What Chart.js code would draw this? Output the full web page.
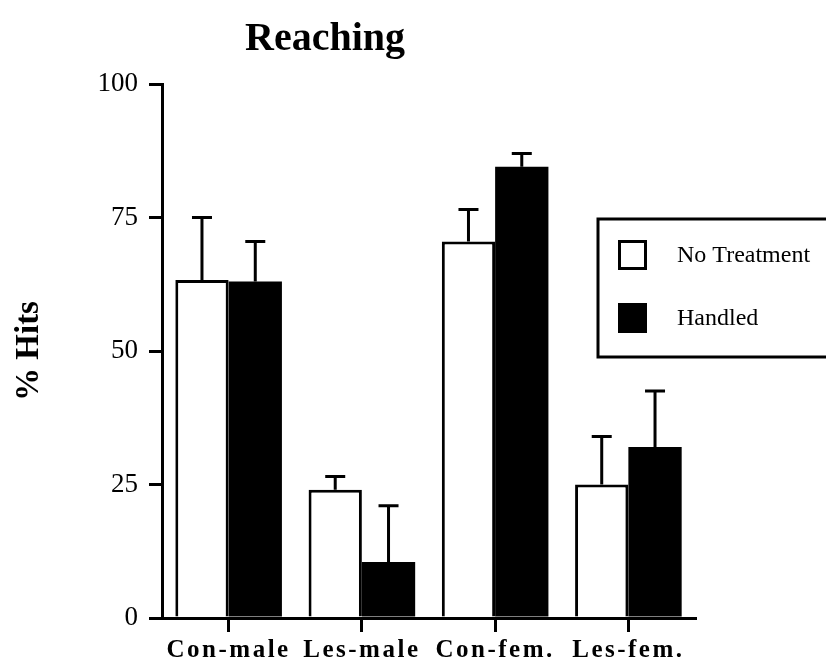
<!DOCTYPE html>
<html>
<head>
<meta charset="utf-8">
<script src="https://cdn.jsdelivr.net/npm/chart.js@4"></script>
<style>
  html, body { margin: 0; padding: 0; background: #fff; }
  #wrap { width: 826px; height: 664px; }
</style>
</head>
<body>
<div id="wrap"><canvas id="barChart" width="826" height="664"></canvas></div>
<script>
const categories = ['Con-male', 'Les-male', 'Con-fem.', 'Les-fem.'];
const noTreatment = [63.3, 24, 70.5, 25];
const handled = [63, 10.5, 84.5, 32];
// upper error bars (SEM)
const noTreatmentErr = [11.7, 2.5, 6, 9];
const handledErr = [7.5, 10.5, 2.5, 10.5];
const yTicks = [0, 25, 50, 75, 100];

const SERIF = '"Liberation Serif", "DejaVu Serif", serif';

const errorBars = {
  id: 'errorBars',
  afterDatasetsDraw(chart) {
    const ctx = chart.ctx;
    const y = chart.scales.y;
    ctx.save();
    ctx.strokeStyle = '#000';
    ctx.lineWidth = 3;
    chart.data.datasets.forEach((ds, i) => {
      const meta = chart.getDatasetMeta(i);
      meta.data.forEach((bar, j) => {
        const top = y.getPixelForValue(ds.data[j] + ds.err[j]);
        const base = y.getPixelForValue(ds.data[j]);
        ctx.beginPath();
        ctx.moveTo(bar.x, base);
        ctx.lineTo(bar.x, top);
        ctx.moveTo(bar.x - 10, top);
        ctx.lineTo(bar.x + 10, top);
        ctx.stroke();
      });
    });
    ctx.restore();
    // x tick labels are drawn after this (ticks.z = 1) with wide spacing
    ctx.letterSpacing = '2.5px';
  },
  afterDraw(chart) {
    const ctx = chart.ctx;
    ctx.letterSpacing = '0px';
    ctx.save();
    // title
    ctx.fillStyle = '#000';
    ctx.font = 'bold 40px ' + SERIF;
    ctx.textAlign = 'center';
    ctx.textBaseline = 'alphabetic';
    ctx.fillText('Reaching', 325, 50);

    // legend box
    ctx.lineWidth = 3;
    ctx.strokeStyle = '#000';
    ctx.strokeRect(598, 219, 300, 138);
    const rows = [255, 318];
    ctx.font = '24px ' + SERIF;
    ctx.textAlign = 'left';
    ctx.textBaseline = 'middle';
    chart.data.datasets.forEach((ds, i) => {
      const cy = rows[i];
      ctx.fillStyle = ds.backgroundColor;
      ctx.fillRect(618, cy - 15, 29, 30);
      ctx.strokeRect(619.5, cy - 13.5, 26, 27);
      ctx.fillStyle = '#000';
      ctx.fillText(ds.label, 677, cy + 1);
    });
    ctx.restore();
  }
};

new Chart(document.getElementById('barChart'), {
  type: 'bar',
  data: {
    labels: categories,
    datasets: [
      {
        label: 'No Treatment',
        data: noTreatment,
        err: noTreatmentErr,
        backgroundColor: '#ffffff',
        borderColor: '#000000',
        borderWidth: 3,
        borderSkipped: 'bottom'
      },
      {
        label: 'Handled',
        data: handled,
        err: handledErr,
        backgroundColor: '#000000',
        borderColor: '#000000',
        borderWidth: 0
      }
    ]
  },
  options: {
    responsive: false,
    animation: false,
    devicePixelRatio: 1,
    layout: { padding: { top: 84, right: 131, bottom: 0, left: 0 } },
    datasets: { bar: { categoryPercentage: 0.8, barPercentage: 1.0 } },
    plugins: {
      legend: { display: false },
      title: { display: false },
      tooltip: { enabled: false }
    },
    scales: {
      x: {
        afterFit: (s) => { s.height = 46; },
        border: { display: true, color: '#000', width: 3 },
        grid: {
          display: true,
          offset: false,
          drawOnChartArea: false,
          drawTicks: true,
          tickLength: 14,
          color: '#000',
          lineWidth: 3
        },
        ticks: {
          z: 1,
          color: '#000',
          padding: 4,
          maxRotation: 0,
          autoSkip: false,
          font: { family: SERIF, size: 25, weight: 'bold' }
        }
      },
      y: {
        min: 0,
        max: 100,
        afterFit: (s) => { s.width = 162; },
        afterBuildTicks: (s) => { s.ticks = yTicks.map(v => ({ value: v })); },
        border: { display: true, color: '#000', width: 3 },
        grid: {
          display: true,
          drawOnChartArea: false,
          drawTicks: true,
          tickLength: 13,
          color: '#000',
          lineWidth: 3
        },
        ticks: {
          color: '#000',
          padding: 11,
          font: { family: SERIF, size: 27 }
        },
        title: {
          display: true,
          text: '% Hits',
          color: '#000',
          padding: { top: 10, bottom: 0 },
          font: { family: SERIF, size: 33, weight: 'bold' }
        }
      }
    }
  },
  plugins: [errorBars]
});
</script>
</body>
</html>
